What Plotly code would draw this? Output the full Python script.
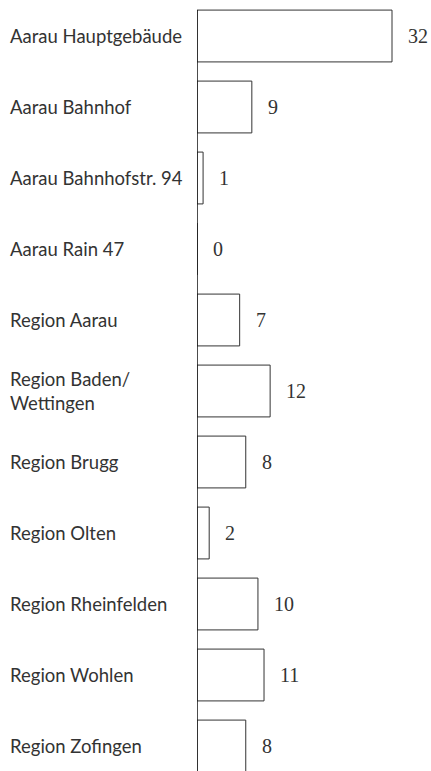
import plotly.graph_objects as go

categories = ["Aarau Hauptgebäude", "Aarau Bahnhof", "Aarau Bahnhofstr. 94", "Aarau Rain 47",
              "Region Aarau", "Region Baden/<br>Wettingen", "Region Brugg", "Region Olten",
              "Region Rheinfelden", "Region Wohlen", "Region Zofingen"]
values = [32, 9, 1, 0, 7, 12, 8, 2, 10, 11, 8]

idx = list(range(len(categories)))
bar_w = 0.73

fig = go.Figure()
fig.add_trace(go.Bar(
    y=idx, x=values, orientation="h", width=bar_w,
    marker=dict(color="white", line=dict(color="#333333", width=1)),
    hoverinfo="skip",
))

annotations = []
for i, (c, v) in enumerate(zip(categories, values)):
    annotations.append(dict(
        x=0, xref="paper", y=i, yref="y", text=c, showarrow=False,
        xanchor="left", yanchor="middle", xshift=-189, align="left",
        font=dict(family="Lato", size=18.5, color="#333333"),
    ))
    annotations.append(dict(
        x=v, xref="x", y=i, yref="y", text=str(v), showarrow=False,
        xanchor="left", yanchor="middle", xshift=14,
        font=dict(family="Liberation Serif", size=20, color="#333333"),
    ))

fig.add_shape(type="line", xref="x", yref="y", x0=0, x1=0,
              y0=-bar_w / 2, y1=10.6, line=dict(color="#111111", width=1.5))

fig.update_layout(
    width=431, height=771,
    margin=dict(l=197, r=0, t=0, b=0),
    paper_bgcolor="white", plot_bgcolor="white",
    showlegend=False,
    bargap=0,
    hovermode=False,
    xaxis=dict(range=[0, 38.4], visible=False, fixedrange=True),
    yaxis=dict(range=[10.352, -0.507], visible=False, fixedrange=True),
    annotations=annotations,
)

fig.write_html(
    "out.html",
    config={"displayModeBar": False, "staticPlot": True},
    post_script="document.body.style.margin='0';document.documentElement.style.overflow='hidden';document.body.style.overflow='hidden';",
)
